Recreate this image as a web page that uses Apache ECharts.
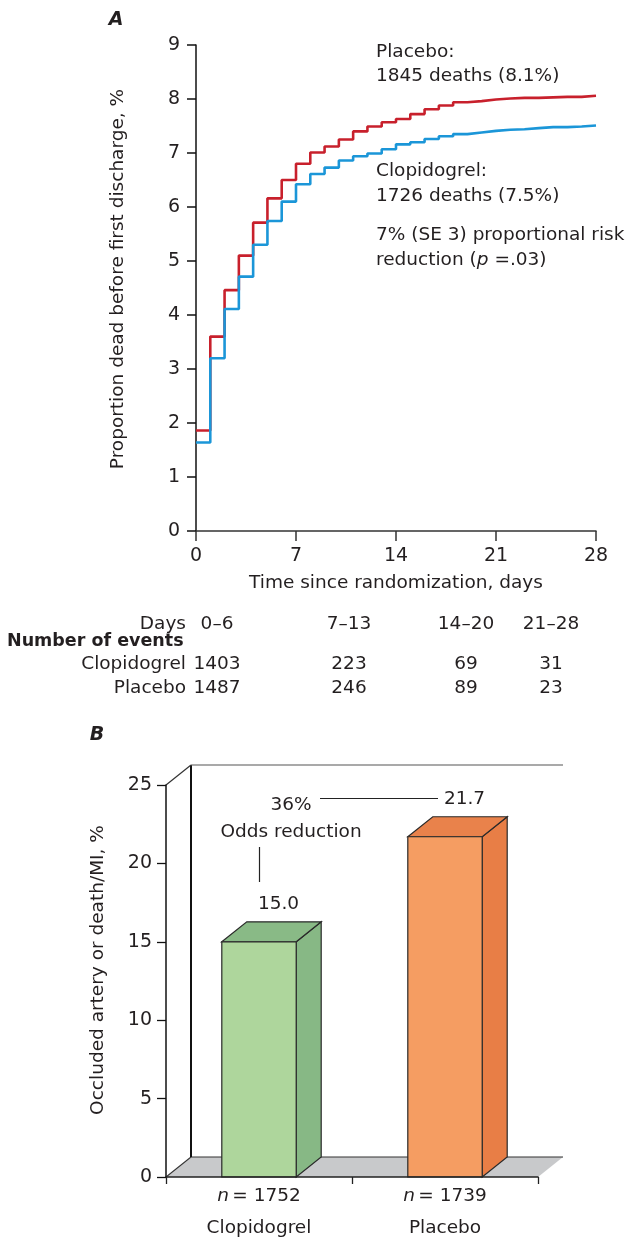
<!DOCTYPE html>
<html><head><meta charset="utf-8">
<script src="https://cdn.jsdelivr.net/npm/echarts@6/dist/echarts.min.js"></script>
<style>html,body{margin:0;padding:0;background:#fff}#c{width:633px;height:1237px}</style>
</head><body><div id="c"></div>
<script>
// ---------- data ----------
const days = [0,1,2,3,4,5,6,7,8,9,10,11,12,13,14,15,16,17,18,19,20,21,22,23,24,25,26,27,28];
const placeboPct = [1.86,3.60,4.46,5.10,5.71,6.16,6.50,6.80,7.01,7.12,7.25,7.40,7.49,7.57,7.63,7.72,7.81,7.88,7.94,7.96,7.99,8.01,8.02,8.02,8.03,8.04,8.04,8.06,8.06];
const clopidogrelPct = [1.64,3.20,4.11,4.71,5.30,5.74,6.10,6.42,6.61,6.73,6.86,6.94,6.99,7.07,7.16,7.20,7.26,7.31,7.35,7.38,7.41,7.43,7.44,7.46,7.48,7.48,7.49,7.51,7.51];
const dayRanges = ['0–6','7–13','14–20','21–28'];
const clopidogrelEvents = [1403,223,69,31];
const placeboEvents = [1487,246,89,23];
const groupsB = ['Clopidogrel','Placebo'];
const nB = [1752,1739];
const valuesB = [15.0,21.7];

// ---------- style ----------
const FONT = '"DejaVu Sans", "Liberation Sans", sans-serif';
const TXT = '#231f20';
const FS = 18.5;
const RED = '#c8202c', BLUE = '#1b96d8';
const DX = 25, DY = -20;
const barFront = ['#aed69c', '#f59d62'];
const barSide = ['#87b885', '#e87e46'];
const barTop = ['#89ba86', '#e9824b'];

const chart = echarts.init(document.getElementById('c'), null, {renderer: 'canvas'});

function txt(text, x, y, opts) {
  return Object.assign({
    type: 'text', x: x, y: y, silent: true,
    style: Object.assign({
      text: text, fill: TXT, font: FS + 'px ' + FONT,
      textAlign: 'left', textVerticalAlign: 'middle'
    }, (opts && opts.style) || {})
  }, (opts && opts.el) || {});
}

const graphics = [];
// Panel letters
graphics.push(txt('A', 116, 20, {style: {font: 'italic bold 19px ' + FONT, textAlign: 'center'}}));
graphics.push(txt('B', 97, 735, {style: {font: 'italic bold 19px ' + FONT, textAlign: 'center'}}));
// Axis names panel A
graphics.push(txt('Proportion dead before first discharge, %', 118, 279, {style: {textAlign: 'center'}, el: {rotation: Math.PI / 2}}));
graphics.push(txt('Time since randomization, days', 396, 583, {style: {textAlign: 'center'}}));
// Annotations panel A
graphics.push(txt('Placebo:', 376, 52));
graphics.push(txt('1845 deaths (8.1%)', 376, 76.5));
graphics.push(txt('Clopidogrel:', 376, 171));
graphics.push(txt('1726 deaths (7.5%)', 376, 196.5));
graphics.push(txt('7% (SE 3) proportional risk', 376, 235));
graphics.push({
  type: 'text', x: 376, y: 260, silent: true,
  style: {
    text: '{a|reduction (}{i|p}{a| =.03)}',
    textVerticalAlign: 'middle',
    rich: {
      a: {fontFamily: FONT, fontSize: FS, fill: TXT, color: TXT},
      i: {fontFamily: FONT, fontSize: FS, fontStyle: 'italic', fill: TXT, color: TXT}
    }
  }
});
// Events table
const colX = [217, 349, 466, 551];
graphics.push(txt('Days', 186, 624, {style: {textAlign: 'right'}}));
graphics.push(txt('Number of events', 7, 641, {style: {font: 'bold 17.5px ' + FONT}}));
graphics.push(txt('Clopidogrel', 186, 664.5, {style: {textAlign: 'right'}}));
graphics.push(txt('Placebo', 186, 688.5, {style: {textAlign: 'right'}}));
dayRanges.forEach((d, i) => graphics.push(txt(d, colX[i], 624, {style: {textAlign: 'center'}})));
clopidogrelEvents.forEach((d, i) => graphics.push(txt(String(d), colX[i], 664.5, {style: {textAlign: 'center'}})));
placeboEvents.forEach((d, i) => graphics.push(txt(String(d), colX[i], 688.5, {style: {textAlign: 'center'}})));
// Panel B axis name + annotation
graphics.push(txt('Occluded artery or death/MI, %', 98, 970, {style: {textAlign: 'center'}, el: {rotation: Math.PI / 2}}));
graphics.push(txt('36%', 291, 805.5, {style: {textAlign: 'center'}}));
graphics.push(txt('Odds reduction', 291, 832, {style: {textAlign: 'center'}}));
graphics.push({type: 'line', silent: true, shape: {x1: 320, y1: 798.5, x2: 438, y2: 798.5}, style: {stroke: '#222', lineWidth: 1.2}});
graphics.push({type: 'line', silent: true, shape: {x1: 259.5, y1: 847, x2: 259.5, y2: 882}, style: {stroke: '#222', lineWidth: 1.2}});

const axisLabelStyle = {color: TXT, fontFamily: FONT, fontSize: 19};

chart.setOption({
  animation: false,
  backgroundColor: '#fff',
  grid: [
    {left: 196, top: 45, width: 400, height: 486, outerBoundsMode: 'none', containLabel: false},
    {left: 166, top: 785, width: 372, height: 392, outerBoundsMode: 'none', containLabel: false}
  ],
  xAxis: [
    {
      gridIndex: 0, type: 'value', min: 0, max: 28, interval: 7,
      axisLine: {show: true, lineStyle: {color: '#333', width: 1.5}},
      axisTick: {show: true, length: 10, lineStyle: {color: '#333', width: 1.5}},
      axisLabel: Object.assign({margin: 16}, axisLabelStyle),
      splitLine: {show: false}
    },
    {
      gridIndex: 1, type: 'category', data: groupsB, z: 10,
      axisLine: {show: true, lineStyle: {color: '#222', width: 1.5}},
      axisTick: {show: true, length: 7, alignWithLabel: false, lineStyle: {color: '#222', width: 1.3}},
      axisLabel: {
        margin: 3,
        formatter: (v, i) => '{i|n} {t|= ' + nB[i] + '}\n{t|' + v + '}',
        rich: {
          i: {fontFamily: FONT, fontSize: FS, fontStyle: 'italic', color: TXT, lineHeight: 32},
          t: {fontFamily: FONT, fontSize: FS, color: TXT, lineHeight: 32}
        }
      },
      splitLine: {show: false}
    }
  ],
  yAxis: [
    {
      gridIndex: 0, type: 'value', min: 0, max: 9, interval: 1,
      axisLine: {show: true, lineStyle: {color: '#111', width: 1.5}},
      axisTick: {show: true, length: 9, lineStyle: {color: '#111', width: 1.5}},
      axisLabel: Object.assign({margin: 16}, axisLabelStyle),
      splitLine: {show: false}
    },
    {
      gridIndex: 1, type: 'value', min: 0, max: 25, interval: 5, z: 10,
      axisLine: {show: true, lineStyle: {color: '#111', width: 1.5}},
      axisTick: {show: true, length: 9, lineStyle: {color: '#111', width: 1.3}},
      axisLabel: Object.assign({margin: 14}, axisLabelStyle),
      splitLine: {show: false}
    }
  ],
  graphic: {elements: graphics},
  series: [
    {
      name: 'Placebo', type: 'line', xAxisIndex: 0, yAxisIndex: 0, step: 'end',
      showSymbol: false, symbol: 'none',
      data: days.map((d, i) => [d, placeboPct[i]]),
      lineStyle: {color: RED, width: 2.6}, z: 3
    },
    {
      name: 'Clopidogrel', type: 'line', xAxisIndex: 0, yAxisIndex: 0, step: 'end',
      showSymbol: false, symbol: 'none',
      data: days.map((d, i) => [d, clopidogrelPct[i]]),
      lineStyle: {color: BLUE, width: 2.6}, z: 4
    },
    {
      name: 'frame', type: 'custom', xAxisIndex: 1, yAxisIndex: 1, z: 1, silent: true,
      data: [[0, 0]],
      renderItem: function (params, api) {
        const cs = params.coordSys;
        const x0 = cs.x, x1 = cs.x + cs.width, yb = cs.y + cs.height, yt = cs.y;
        return {
          type: 'group',
          children: [
            {type: 'polygon', shape: {points: [[x0, yb], [x1, yb], [x1 + DX, yb + DY], [x0 + DX, yb + DY]]}, style: {fill: '#c8c9cb', stroke: null}},
            {type: 'line', shape: {x1: x0 + DX, y1: yb + DY, x2: x1 + DX, y2: yb + DY}, style: {stroke: '#333', lineWidth: 1.1}},
            {type: 'line', shape: {x1: x0, y1: yb, x2: x0 + DX, y2: yb + DY}, style: {stroke: '#333', lineWidth: 1.1}},
            {type: 'line', shape: {x1: x0 + DX, y1: yt + DY, x2: x0 + DX, y2: yb + DY}, style: {stroke: '#111', lineWidth: 2}},
            {type: 'line', shape: {x1: x0, y1: yt, x2: x0 + DX, y2: yt + DY}, style: {stroke: '#333', lineWidth: 1.2}},
            {type: 'line', shape: {x1: x0 + DX, y1: yt + DY, x2: x1 + DX, y2: yt + DY}, style: {stroke: '#555', lineWidth: 1.2}}
          ]
        };
      }
    },
    {
      name: 'Occluded artery or death/MI', type: 'custom', xAxisIndex: 1, yAxisIndex: 1, z: 3,
      data: valuesB.map((v, i) => [i, v]),
      renderItem: function (params, api) {
        const i = params.dataIndex;
        const base = api.coord([api.value(0), 0]);
        const top = api.coord([api.value(0), api.value(1)]);
        const bw = api.size([1, 0])[0] * 0.4;
        const xl = base[0] - bw / 2, xr = base[0] + bw / 2;
        const yt = top[1], yb = base[1];
        const st = {stroke: '#2a2a2a', lineWidth: 1.2, lineJoin: 'miter'};
        return {
          type: 'group',
          children: [
            {type: 'polygon', shape: {points: [[xr, yt], [xr + DX, yt + DY], [xr + DX, yb + DY], [xr, yb]]}, style: Object.assign({fill: barSide[i]}, st)},
            {type: 'polygon', shape: {points: [[xl, yt], [xl + DX, yt + DY], [xr + DX, yt + DY], [xr, yt]]}, style: Object.assign({fill: barTop[i]}, st)},
            {type: 'rect', shape: {x: xl, y: yt, width: bw, height: yb - yt}, style: Object.assign({fill: barFront[i]}, st)},
            {type: 'text', x: base[0] + DX / 2 + 7, y: yt - 37.5,
              style: {text: api.value(1).toFixed(1), fill: TXT, font: FS + 'px ' + FONT, textAlign: 'center', textVerticalAlign: 'middle'}}
          ]
        };
      }
    }
  ]
});
</script>
</body></html>
